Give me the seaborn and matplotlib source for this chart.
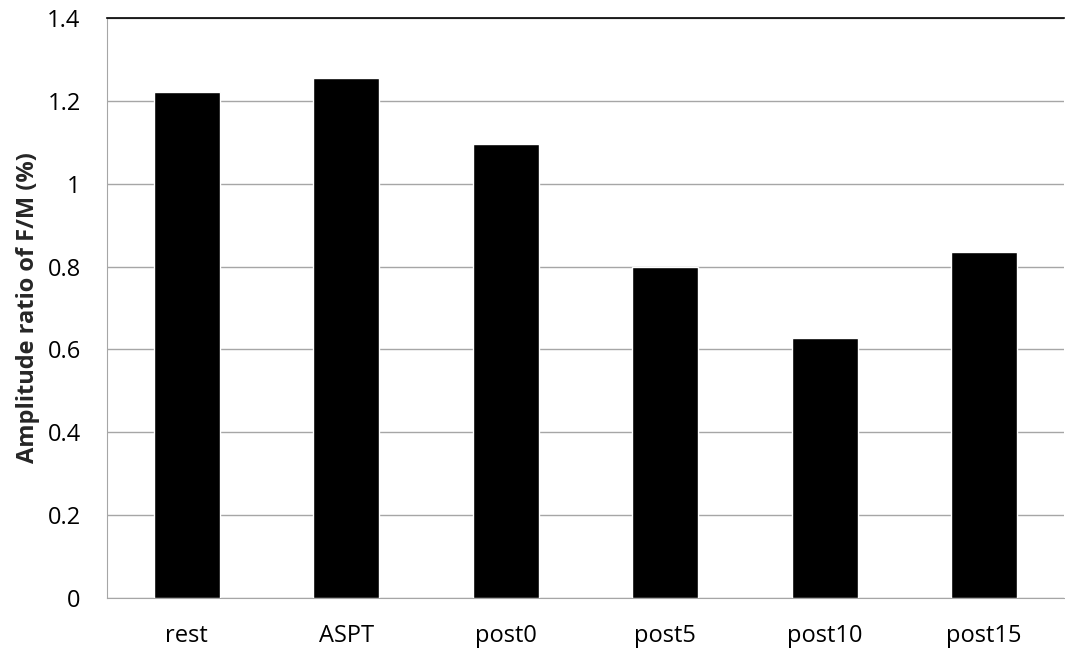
import matplotlib
matplotlib.use('Agg')
import pandas as pd
import matplotlib.pyplot as plt
import seaborn as sns

conditions = ['rest', 'ASPT', 'post0', 'post5', 'post10', 'post15']
ratio = [1.222, 1.255, 1.095, 0.800, 0.628, 0.834]

df = pd.DataFrame({'condition': conditions, 'ratio': ratio})

sns.set_style('white')
plt.rcParams['font.family'] = ['Open Sans', 'DejaVu Sans']

fig = plt.figure(figsize=(10.65, 6.54), dpi=100)
ax = fig.add_axes([0.1005, 0.0856, 0.8985, 0.8869])

sns.barplot(data=df, x='condition', y='ratio', color='black', width=0.415,
            saturation=1, ax=ax, zorder=3)

ax.set_ylim(0, 1.4)
ax.set_yticks([0, 0.2, 0.4, 0.6, 0.8, 1.0, 1.2, 1.4])
ax.set_yticklabels(['0', '0.2', '0.4', '0.6', '0.8', '1', '1.2', '1.4'])
ax.yaxis.grid(True, color='#a6a6a6', linewidth=1, zorder=0)
ax.set_axisbelow(True)

ax.spines['right'].set_visible(False)
ax.spines['top'].set_color('black')
ax.spines['top'].set_linewidth(1.2)
ax.spines['left'].set_color('#a6a6a6')
ax.spines['bottom'].set_color('#a6a6a6')

ax.tick_params(axis='both', length=0, labelsize=17, colors='black')
ax.tick_params(axis='y', pad=19)
ax.tick_params(axis='x', pad=19)
ax.set_xlabel('')
ax.set_ylabel('Amplitude ratio of F/M (%)', fontsize=17, fontweight='bold', labelpad=5)

fig.savefig('out.png', dpi=100)
